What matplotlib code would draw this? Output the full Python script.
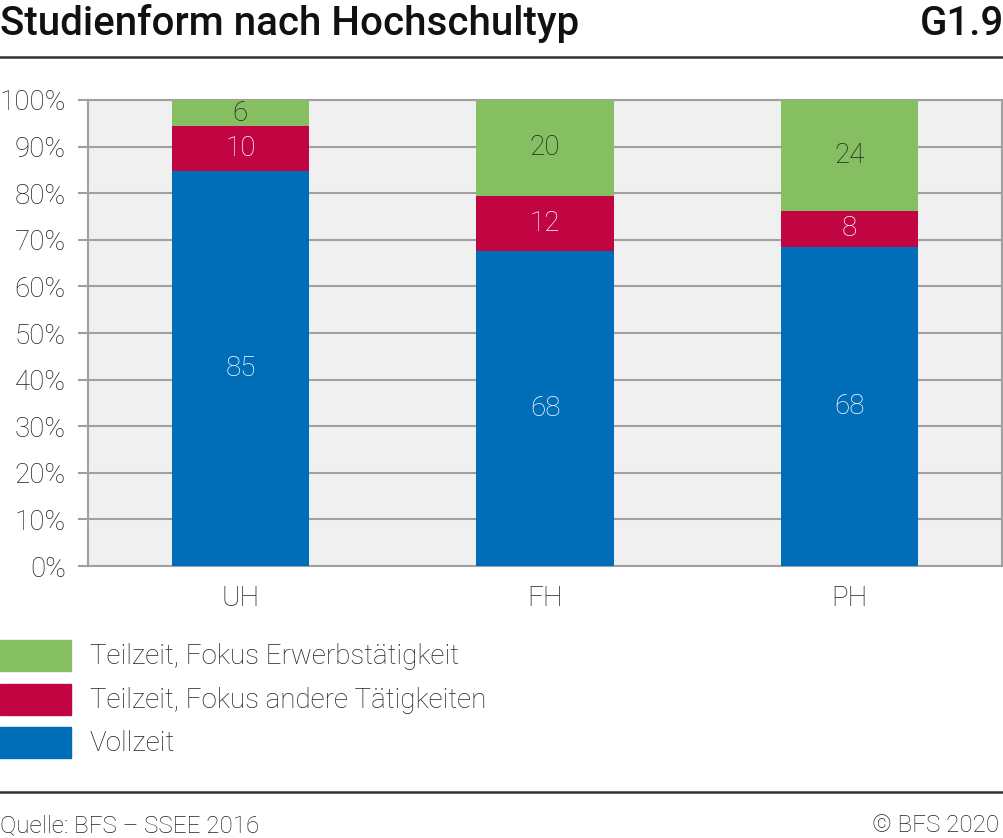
import matplotlib.pyplot as plt
from matplotlib.patches import Rectangle
from matplotlib.lines import Line2D

# Daten
hochschultypen = ["UH", "FH", "PH"]
serien = ["Vollzeit", "Teilzeit, Fokus andere Tätigkeiten", "Teilzeit, Fokus Erwerbstätigkeit"]
vollzeit = [84.8, 67.6, 68.5]
teilzeit_andere = [9.6, 11.8, 7.7]
teilzeit_erwerb = [5.6, 20.6, 23.8]
label_vollzeit = ["85", "68", "68"]
label_andere = ["10", "12", "8"]
label_erwerb = ["6", "20", "24"]

farben = ["#006db8", "#c10543", "#86bf62"]
textfarben = ["white", "white", "#222222"]

plt.rcParams['font.family'] = ['Roboto', 'DejaVu Sans']

W, H = 1004, 838
fig = plt.figure(figsize=(W / 100, H / 100), dpi=100)

ax = fig.add_axes([88 / W, 1 - 566 / H, 914 / W, 466 / H])
ax.set_facecolor("#f0f0f0")

x = range(len(hochschultypen))
werte = [vollzeit, teilzeit_andere, teilzeit_erwerb]
labels = [label_vollzeit, label_andere, label_erwerb]
unten = [0, 0, 0]
for i, (serie, lab) in enumerate(zip(werte, labels)):
    bars = ax.bar(x, serie, width=0.45, bottom=unten, color=farben[i], zorder=3)
    for b, t in zip(bars, lab):
        ax.text(b.get_x() + b.get_width() / 2, b.get_y() + b.get_height() / 2, t,
                ha="center", va="center", fontsize=20, fontweight="light",
                color=textfarben[i], zorder=4)
    unten = [u + s for u, s in zip(unten, serie)]

ax.set_xlim(-0.5, 2.5)
ax.set_ylim(0, 100)
ax.set_yticks(range(0, 101, 10))
ax.set_yticklabels([f"{v}%" for v in range(0, 101, 10)], fontsize=20, fontweight="light", color="#222222")
ax.set_xticks(list(x))
ax.set_xticklabels(hochschultypen, fontsize=20, fontweight="light", color="#222222")
ax.tick_params(axis="y", length=7, width=1.5, color="#a0a0a0", pad=9)
ax.tick_params(axis="x", length=0, pad=14)
ax.grid(axis="y", color="#a0a0a0", linewidth=1.5, zorder=1)
for s in ax.spines.values():
    s.set_color("#a0a0a0")
    s.set_linewidth(1.5)

# Titel
fig.text(0, 1 - 35 / H, "Studienform nach Hochschultyp", fontsize=29, fontweight="medium",
         color="#111111", ha="left", va="baseline")
fig.text(1, 1 - 35 / H, "G1.9", fontsize=29, fontweight="medium",
         color="#111111", ha="right", va="baseline")
fig.add_artist(Line2D([0, 1], [1 - 57 / H, 1 - 57 / H], color="#333333", linewidth=1.8))

# Legende
leg_y = [640, 684, 727]
for yy, name, col in zip(leg_y, serien[::-1], farben[::-1]):
    fig.add_artist(Rectangle((0, 1 - (yy + 31) / H), 71 / W, 31 / H, color=col))
    fig.text(90 / W, 1 - (yy + 16) / H, name, fontsize=20, fontweight="light",
             color="#222222", ha="left", va="center")

# Fusszeile
fig.add_artist(Line2D([0, 1], [1 - 792 / H, 1 - 792 / H], color="#333333", linewidth=1.8))
fig.text(0, 1 - 832 / H, "Quelle: BFS – SSEE 2016", fontsize=17.5, fontweight="light",
         color="#222222", ha="left", va="baseline")
fig.text(1 - 5 / W, 1 - 832 / H, "© BFS 2020", fontsize=17.5, fontweight="light",
         color="#222222", ha="right", va="baseline")

fig.savefig("out.png", dpi=100)
